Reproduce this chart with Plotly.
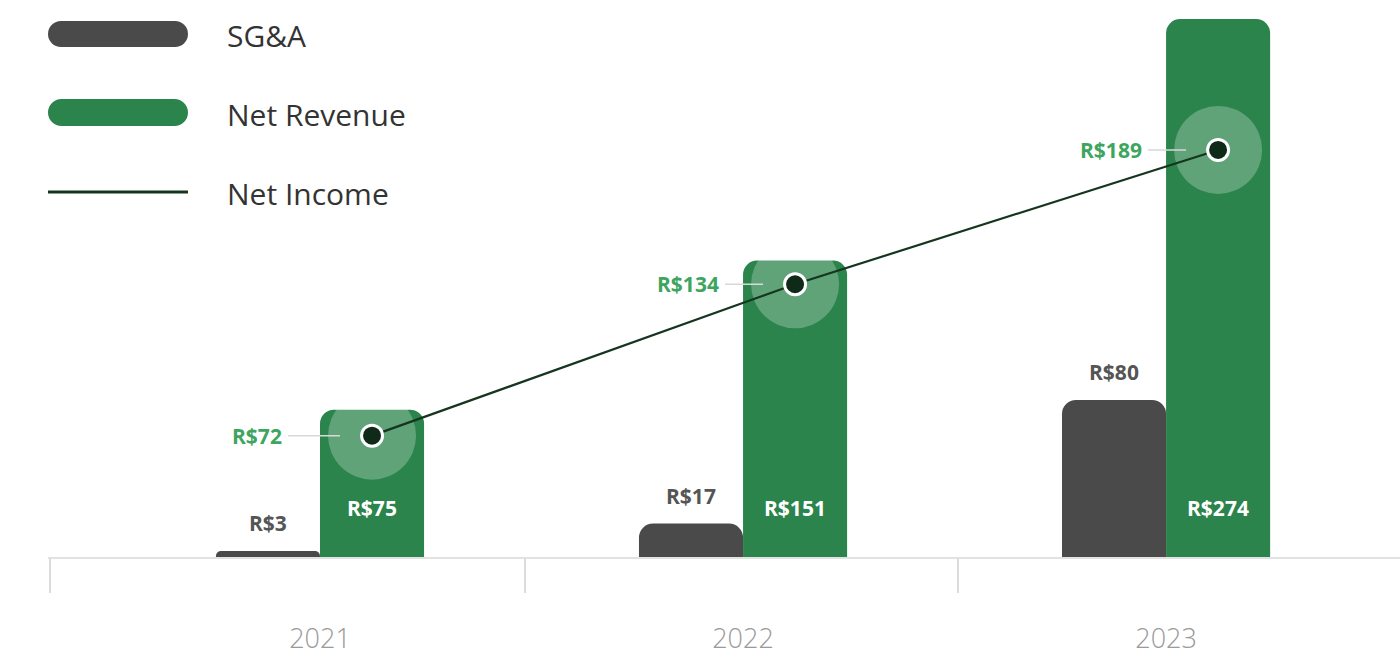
import plotly.graph_objects as go

# ---- data ----
years = ["2021", "2022", "2023"]
sga = [3, 17, 80]
net_revenue = [75, 151, 274]
net_income = [72, 134, 189]
series_names = ["SG&A", "Net Revenue", "Net Income"]

# ---- styling constants ----
W, H = 1400, 661
ML, MR, MT, MB = 48, 0, 0, 104
PLOT_W = W - ML - MR
PLOT_H = H - MT - MB
BAR_W = 0.246
GRAY = "#4a4a4a"
GREEN = "#2b844c"
LINE_C = "#16351f"
LABEL_GREEN = "#3ea55f"
FONT = "Open Sans"
X_RANGE = [-0.643, 2.553]
SEPARATORS = [-0.638, 0.485, 1.508]

xs = list(range(len(years)))
x_sga = [i - BAR_W / 2 for i in xs]
x_rev = [i + BAR_W / 2 for i in xs]

fig = go.Figure()
fig.add_trace(go.Bar(
    x=xs, y=sga, name=series_names[0], offset=-BAR_W, width=BAR_W,
    marker=dict(color=GRAY, cornerradius=14, line=dict(width=0)),
    xaxis="x", yaxis="y", hoverinfo="skip"))
fig.add_trace(go.Bar(
    x=xs, y=net_revenue, name=series_names[1], offset=0, width=BAR_W,
    marker=dict(color=GREEN, cornerradius=14, line=dict(width=0)),
    xaxis="x", yaxis="y", hoverinfo="skip"))
# halos
fig.add_trace(go.Scatter(
    x=x_rev, y=net_income, mode="markers",
    marker=dict(size=88, color="rgba(255,255,255,0.25)", line=dict(width=0)),
    xaxis="x2", yaxis="y2", hoverinfo="skip", showlegend=False))
# net income line
fig.add_trace(go.Scatter(
    x=x_rev, y=net_income, mode="lines+markers", name=series_names[2],
    line=dict(color=LINE_C, width=2.2),
    marker=dict(size=21, color="#0f2a18", line=dict(color="white", width=3)),
    xaxis="x2", yaxis="y2", hoverinfo="skip"))

annotations = []
# SG&A labels above bars
for x, v in zip(x_sga, sga):
    annotations.append(dict(
        x=x, y=v, xref="x", yref="y", text=f"R${v}", showarrow=False,
        yanchor="bottom", yshift=12,
        font=dict(family=FONT, size=21, color="#555555", weight="bold")))
# Net revenue labels inside bars near base
for x, v in zip(x_rev, net_revenue):
    annotations.append(dict(
        x=x, y=0, xref="x", yref="y", text=f"R${v}", showarrow=False,
        yanchor="middle", yshift=49,
        font=dict(family=FONT, size=21, color="white", weight="bold")))
# Net income labels with leader lines
ax_offsets = [-84, -70, -70]
for x, v, axo in zip(x_rev, net_income, ax_offsets):
    annotations.append(dict(
        x=x, y=v, xref="x2", yref="y2", text=f"R${v}", showarrow=True,
        arrowhead=0, arrowwidth=1.5, arrowcolor="#d8d8d8", ax=axo, ay=0,
        xanchor="right", standoff=32, borderpad=5,
        font=dict(family=FONT, size=21, color=LABEL_GREEN, weight="bold")))


# ---- custom legend ----
def px_x(px):
    return (px - ML) / PLOT_W


def px_y(py):
    return (MT + PLOT_H - py) / PLOT_H


shapes = []
legend_rows = [(series_names[0], GRAY, 21, 47, 35),
               (series_names[1], GREEN, 99, 126, 114)]
for name, col, top, bot, cy in legend_rows:
    r = (bot - top) / 2
    shapes.append(dict(type="rect", xref="paper", yref="paper",
                       x0=px_x(48 + r), x1=px_x(188 - r), y0=px_y(bot), y1=px_y(top),
                       fillcolor=col, line=dict(width=0)))
    for cx in (48 + r, 188 - r):
        shapes.append(dict(type="circle", xref="paper", yref="paper",
                           x0=px_x(cx - r), x1=px_x(cx + r), y0=px_y(bot), y1=px_y(top),
                           fillcolor=col, line=dict(width=0)))
    annotations.append(dict(x=px_x(225), y=px_y(cy), xref="paper", yref="paper",
                            text=name, showarrow=False, xanchor="left", yanchor="middle",
                            font=dict(family=FONT, size=30, color="#333333")))
shapes.append(dict(type="line", xref="paper", yref="paper",
                   x0=px_x(48), x1=px_x(188), y0=px_y(192), y1=px_y(192),
                   line=dict(color=LINE_C, width=3)))
annotations.append(dict(x=px_x(225), y=px_y(193), xref="paper", yref="paper",
                        text=series_names[2], showarrow=False, xanchor="left", yanchor="middle",
                        font=dict(family=FONT, size=30, color="#333333")))

fig.update_layout(
    width=W, height=H,
    margin=dict(l=ML, r=MR, t=MT, b=MB, autoexpand=False),
    paper_bgcolor="white", plot_bgcolor="white",
    showlegend=False, barmode="overlay",
    xaxis=dict(range=X_RANGE, tickmode="array", tickvals=xs, ticktext=years,
               ticks="", showgrid=False, zeroline=False, automargin=False,
               showline=True, linecolor="#e2e2e2", linewidth=2,
               ticklabelstandoff=57,
               tickfont=dict(family=FONT, size=27, color="#9a9a9a", weight=300)),
    xaxis2=dict(range=X_RANGE, overlaying="x", anchor="y2", side="bottom",
                tickmode="array", tickvals=SEPARATORS, ticks="outside", ticklen=35,
                tickwidth=1.5, tickcolor="#dcdcdc", showticklabels=False, automargin=False,
                showgrid=False, zeroline=False, showline=False),
    yaxis=dict(range=[0, 283.7], visible=False, fixedrange=True, automargin=False),
    yaxis2=dict(range=[22.3, 250.4], overlaying="y", visible=False, automargin=False),
    shapes=shapes,
    annotations=annotations,
)

fig.write_html("out.html")
